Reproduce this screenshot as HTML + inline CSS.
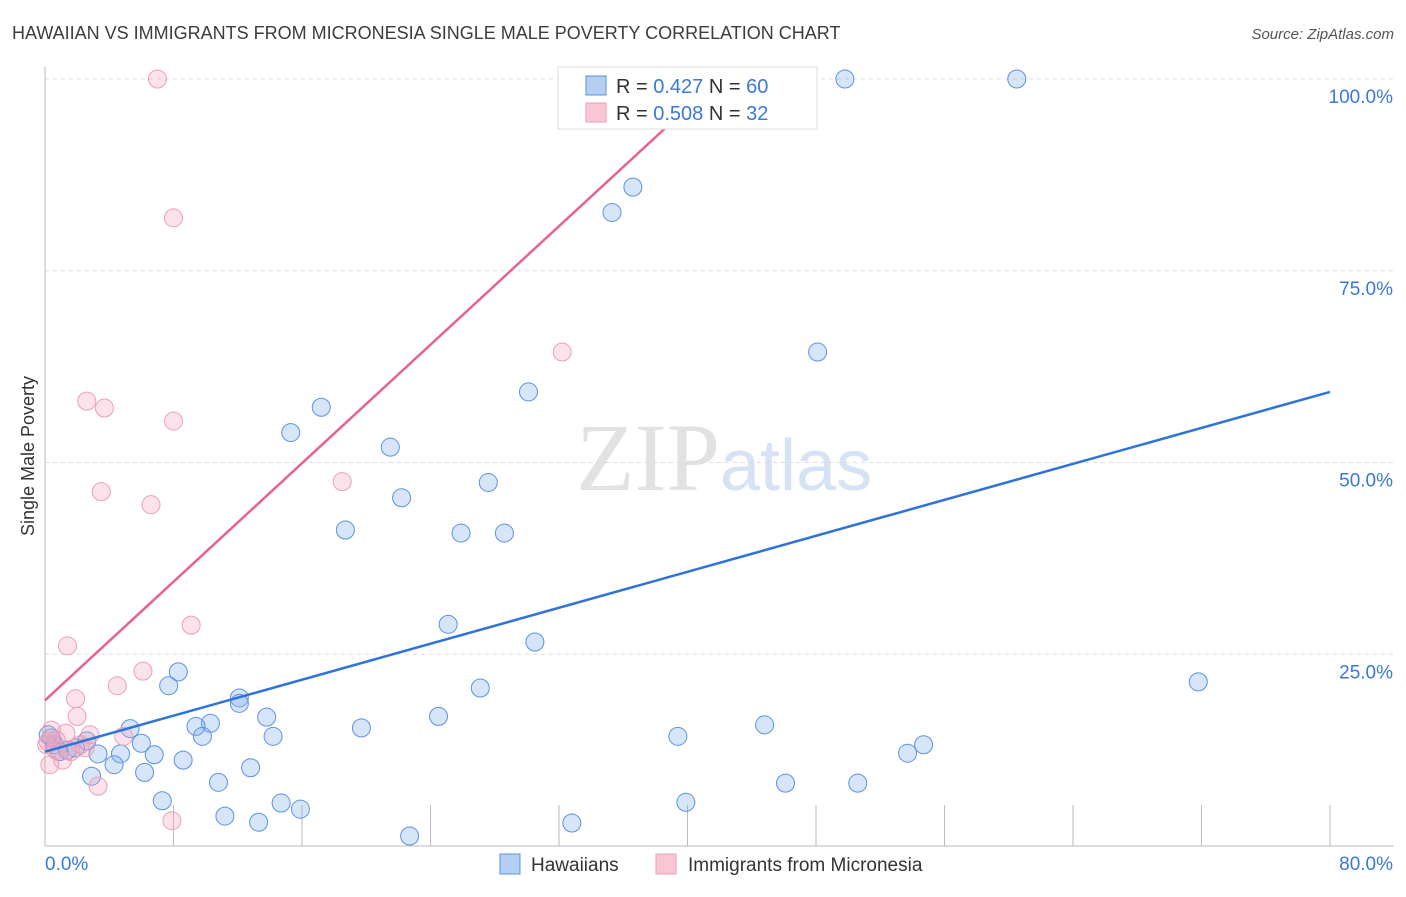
<!DOCTYPE html>
<html><head><meta charset="utf-8"><style>
body{margin:0;background:#fff;font-family:"Liberation Sans",sans-serif}
</style></head><body>
<svg id="chart" width="1406" height="892" viewBox="0 0 1406 892" xmlns="http://www.w3.org/2000/svg" style="font-family:'Liberation Sans',sans-serif">
<text x="12" y="39" font-size="18" fill="#3c3c3c">HAWAIIAN VS IMMIGRANTS FROM MICRONESIA SINGLE MALE POVERTY CORRELATION CHART</text>
<text x="1394" y="39" font-size="15" fill="#555" text-anchor="end" font-style="italic">Source: ZipAtlas.com</text>
<text x="720" y="490" font-size="96" fill="#e2e2e2" text-anchor="end" font-family="Liberation Serif">ZIP</text>
<text x="720" y="490" font-size="72" fill="#d6e3f5">atlas</text>
<g id="grid"></g>
<g id="axes"></g>
<g id="points"></g>
<g id="lines"></g>
<text transform="translate(34,456) rotate(-90)" font-size="18" fill="#333" text-anchor="middle">Single Male Poverty</text>
<g>
<rect x="558" y="67" width="259" height="62" fill="#fff" stroke="#ddd"/>
<rect x="586" y="76" width="20" height="19" fill="#b5cff3" stroke="#5b93e0"/>
<rect x="586" y="103" width="20" height="19" fill="#f9c6d4" stroke="#eaa0b8"/>
<text x="616" y="93" font-size="20" fill="#333">R = <tspan fill="#3b78d8">0.427</tspan>   N = <tspan fill="#3b78d8">60</tspan></text>
<text x="616" y="120" font-size="20" fill="#333">R = <tspan fill="#3b78d8">0.508</tspan>   N = <tspan fill="#3b78d8">32</tspan></text>
</g>
<g>
<rect x="500" y="854" width="20" height="20" fill="#b5cff3" stroke="#5b93e0"/>
<text x="531" y="871" font-size="19" fill="#333">Hawaiians</text>
<rect x="656" y="854" width="20" height="20" fill="#f9c6d4" stroke="#eaa0b8"/>
<text x="688" y="871" font-size="19" fill="#333">Immigrants from Micronesia</text>
</g>
</svg>
<script>
const yTicks=[25,50,75,100];
const yTickLabels=["25.0%","50.0%","75.0%","100.0%"];
const xTicks=[0,8,16,24,32,40,48,56,64,72,80];
const blueX=[49.8,60.5,36.6,35.3,48.1,30.1,17.2,15.3,21.5,27.6,22.2,18.7,25.9,28.6,25.1,30.5,8.3,71.8,7.7,27.1,12.1,12.1,13.8,24.5,10.3,9.4,44.8,19.7,5.3,9.8,14.2,39.4,6.0,2.6,54.7,53.7,3.3,4.7,6.8,8.6,4.3,12.8,6.2,2.9,10.8,46.1,50.6,7.3,39.9,14.7,15.9,11.2,13.3,32.8,22.7,0.6,0.9,1.4,0.4,1.9,0.2];
const blueY=[100,100,85.9,82.6,64.4,59.2,57.2,53.9,52.0,47.4,45.4,41.2,40.8,40.8,28.9,26.6,22.7,21.4,20.9,20.6,19.3,18.6,16.8,16.9,16.0,15.6,15.8,15.4,15.3,14.3,14.3,14.3,13.4,13.7,13.2,12.1,12.0,12.0,11.9,11.2,10.6,10.2,9.6,9.1,8.3,8.2,8.2,5.9,5.7,5.6,4.8,3.9,3.1,3.0,1.3,13.2,12.3,12.5,14.1,12.8,14.5];
const pinkX=[7.0,8.0,32.2,2.6,3.7,8.0,18.5,3.5,6.6,9.1,1.4,6.1,4.5,1.9,2.0,4.9,2.8,1.3,0.4,0.2,0.7,1.1,0.3,3.3,7.9,2.2,1.6,2.5,0.7,0.1];
const pinkY=[100,81.9,64.4,58.0,57.1,55.4,47.5,46.2,44.5,28.8,26.1,22.8,20.9,19.2,16.9,14.3,14.5,14.7,15.1,13.6,12.5,11.2,10.6,7.8,3.3,13.2,12.3,12.8,13.8,13.2];
const blueLine=[[0,12.3],[80,59.2]];
const pinkLine=[[0,19.0],[39.5,95.3]];
const NS="http://www.w3.org/2000/svg";
const X=v=>45+v*(1330-45)/80, Y=v=>846-v*(846-79)/100;
function mk(tag,attrs,parent){const e=document.createElementNS(NS,tag);for(const k in attrs)e.setAttribute(k,attrs[k]);document.getElementById(parent).appendChild(e);return e;}
yTicks.forEach((t,i)=>{
 const l=mk('line',{x1:45,x2:1394,y1:Y(t),y2:Y(t),stroke:'#ddd','stroke-dasharray':'4,4'},'grid');
 
 
 const tx=mk('text',{x:1393,y:Y(t)+24,'font-size':19,fill:'#3b78d8','text-anchor':'end'},'grid');
 tx.textContent=yTickLabels[i];
 
 
});
let a=mk('line',{x1:45,x2:45,y1:67,y2:846,stroke:'#bbb'},'axes');


a=mk('line',{x1:45,x2:1394,y1:846,y2:846,stroke:'#bbb'},'axes');


xTicks.forEach(t=>{const l=mk('line',{x1:X(t),x2:X(t),y1:805,y2:846,stroke:'#bbb'},'axes');
 
 });
let t=mk('text',{x:45,y:870,'font-size':19,fill:'#3b78d8'},'axes');t.textContent='0.0%';


t=mk('text',{x:1393,y:870,'font-size':19,fill:'#3b78d8','text-anchor':'end'},'axes');t.textContent='80.0%';


blueX.forEach((v,i)=>{const c=mk('circle',{cx:X(v),cy:Y(blueY[i]),r:9,fill:'rgba(130,175,235,0.33)',stroke:'#5b93e0','stroke-width':1},'points');
 
 });
pinkX.forEach((v,i)=>{const c=mk('circle',{cx:X(v),cy:Y(pinkY[i]),r:9,fill:'rgba(245,160,190,0.3)',stroke:'#eaa0b8','stroke-width':1},'points');
 
 });
let ln=mk('line',{x1:X(blueLine[0][0]),y1:Y(blueLine[0][1]),x2:X(blueLine[1][0]),y2:Y(blueLine[1][1]),stroke:'#2f73d6','stroke-width':2.5},'lines');


ln=mk('line',{x1:X(pinkLine[0][0]),y1:Y(pinkLine[0][1]),x2:X(pinkLine[1][0]),y2:Y(pinkLine[1][1]),stroke:'#e8628e','stroke-width':2.5},'lines');


</script>
</body></html>
